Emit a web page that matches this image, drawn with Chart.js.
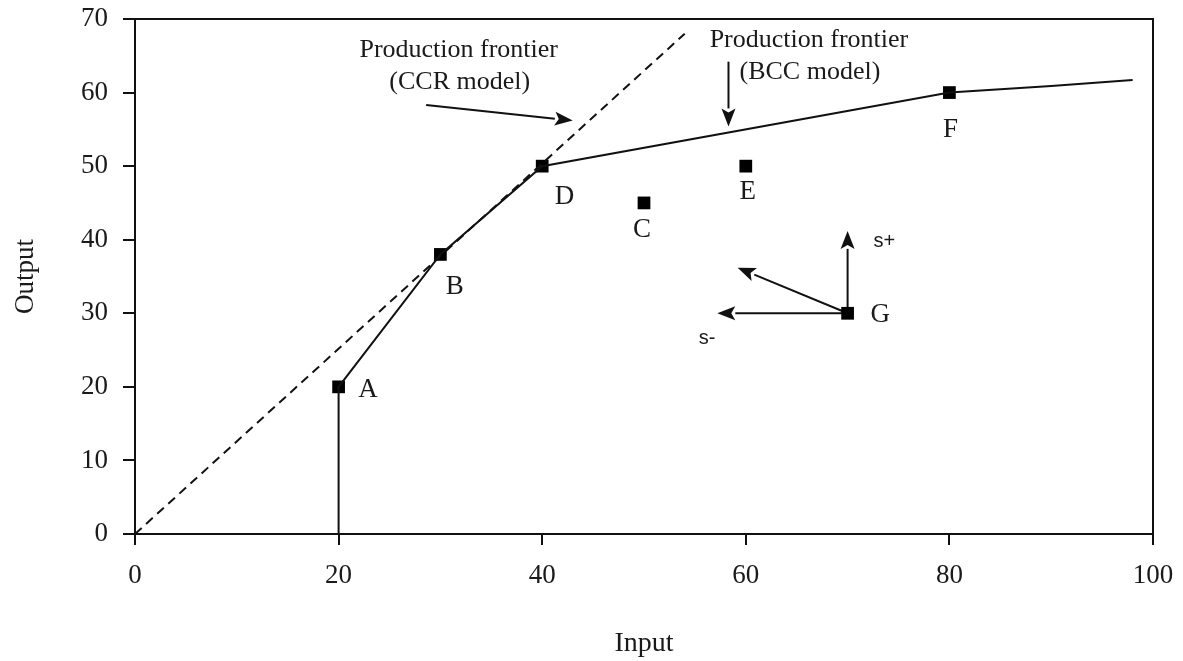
<!DOCTYPE html>
<html>
<head>
<meta charset="utf-8">
<title>Production frontier</title>
<script src="https://cdn.jsdelivr.net/npm/chart.js@4.4.1/dist/chart.umd.min.js"></script>
<style>
  html, body { margin: 0; padding: 0; background: #fff; }
  #wrap { width: 1183px; height: 661px; }
</style>
</head>
<body>
<div id="wrap"><canvas id="chart"></canvas></div>
<script>
// decision making units
const dmuNames = ['A', 'B', 'C', 'D', 'E', 'F', 'G'];
const dmuInput = [20, 30, 50, 40, 60, 80, 70];
const dmuOutput = [20, 38, 45, 50, 50, 60, 30];

// BCC frontier (variable returns), starts with the vertical segment at A
const bccInput = [20, 20, 30, 40, 80, 90, 98];
const bccOutput = [0, 20, 38, 50, 60, 60.9, 61.7];

// CCR frontier (constant returns), ray from origin
const ccrInput = [0, 54];
const ccrOutput = [0, 68];

const xTicks = [0, 20, 40, 60, 80, 100];
const yTicks = [0, 10, 20, 30, 40, 50, 60, 70];

const serif = "'Liberation Serif', 'Times New Roman', serif";
const ink = '#111';

// arrows, in data units: [fromX, fromY, toX, toY]
const arrows = [
  [28.6, 58.3, 43.0, 56.2],
  [58.3, 64.2, 58.3, 55.4],
  [70, 30, 70, 41.2],
  [70, 30, 57.2, 30],
  [70, 30, 59.2, 36.2]
];

// notes anchored in data units
const notes = [
  { text: 'Production frontier', x: 31.8, y: 65.8, size: 26 },
  { text: '(CCR model)', x: 31.9, y: 61.4, size: 26 },
  { text: 'Production frontier', x: 66.2, y: 67.1, size: 26 },
  { text: '(BCC model)', x: 66.3, y: 62.8, size: 26 },
  { text: 'A', x: 22.9, y: 19.6, size: 27 },
  { text: 'B', x: 31.4, y: 33.6, size: 27 },
  { text: 'D', x: 42.2, y: 45.8, size: 27 },
  { text: 'C', x: 49.8, y: 41.3, size: 27 },
  { text: 'E', x: 60.2, y: 46.5, size: 27 },
  { text: 'F', x: 80.1, y: 54.9, size: 27 },
  { text: 'G', x: 73.2, y: 29.8, size: 27 },
  { text: 's+', x: 73.6, y: 39.8, size: 20, sans: true },
  { text: 's-', x: 56.2, y: 26.6, size: 20, sans: true }
];

function drawArrow(ctx, x1, y1, x2, y2) {
  const ang = Math.atan2(y2 - y1, x2 - x1);
  const head = 18, half = 7;
  const bx = x2 - head * Math.cos(ang), by = y2 - head * Math.sin(ang);
  ctx.beginPath();
  ctx.moveTo(x1, y1);
  ctx.lineTo(bx, by);
  ctx.stroke();
  ctx.beginPath();
  ctx.moveTo(x2, y2);
  ctx.lineTo(bx + half * Math.sin(ang), by - half * Math.cos(ang));
  ctx.lineTo(bx + 4 * Math.cos(ang), by + 4 * Math.sin(ang));
  ctx.lineTo(bx - half * Math.sin(ang), by + half * Math.cos(ang));
  ctx.closePath();
  ctx.fill();
}

const decorations = {
  id: 'decorations',
  beforeDatasetsDraw(chart) {
    const { ctx, scales: { x, y } } = chart;
    ctx.save();
    ctx.strokeStyle = ink;
    ctx.fillStyle = ink;
    ctx.lineWidth = 2;
    arrows.forEach(a => {
      drawArrow(ctx, x.getPixelForValue(a[0]), y.getPixelForValue(a[1]),
                x.getPixelForValue(a[2]), y.getPixelForValue(a[3]));
    });
    ctx.restore();
  },
  afterDatasetsDraw(chart) {
    const { ctx, chartArea: area, scales: { x, y } } = chart;
    ctx.save();
    // closed box around the plot
    ctx.strokeStyle = ink;
    ctx.lineWidth = 2;
    ctx.strokeRect(area.left, area.top, area.right - area.left, area.bottom - area.top);

    ctx.fillStyle = '#1a1a1a';
    ctx.textAlign = 'center';
    ctx.textBaseline = 'middle';
    notes.forEach(n => {
      ctx.font = n.size + 'px ' + (n.sans ? "'Liberation Sans', Arial, sans-serif" : serif);
      ctx.fillText(n.text, x.getPixelForValue(n.x), y.getPixelForValue(n.y));
    });
    ctx.restore();
  }
};

new Chart(document.getElementById('chart'), {
  type: 'scatter',
  data: {
    datasets: [
      {
        label: 'CCR frontier',
        data: ccrInput.map((v, i) => ({ x: v, y: ccrOutput[i] })),
        showLine: true,
        borderColor: ink,
        borderWidth: 2,
        borderDash: [9, 6],
        pointRadius: 0
      },
      {
        label: 'BCC frontier',
        data: bccInput.map((v, i) => ({ x: v, y: bccOutput[i] })),
        showLine: true,
        borderColor: ink,
        borderWidth: 2,
        pointRadius: 0
      },
      {
        label: 'DMU',
        data: dmuInput.map((v, i) => ({ x: v, y: dmuOutput[i], name: dmuNames[i] })),
        pointStyle: 'rect',
        pointRadius: 9,
        backgroundColor: '#000',
        borderColor: '#000',
        borderWidth: 0
      }
    ]
  },
  options: {
    responsive: true,
    maintainAspectRatio: false,
    animation: false,
    layout: { padding: { top: 19, right: 30, left: 0, bottom: 0 } },
    plugins: {
      legend: { display: false },
      tooltip: { enabled: false }
    },
    scales: {
      x: {
        type: 'linear',
        min: 0,
        max: 100,
        afterBuildTicks: s => { s.ticks = xTicks.map(v => ({ value: v })); },
        afterFit: s => {
          s.height = 127;
          s.paddingLeft = 0;
          s.paddingRight = 0;
        },
        grid: { drawOnChartArea: false, color: ink, lineWidth: 2, tickLength: 11 },
        border: { display: true, color: ink, width: 2 },
        ticks: { color: '#1a1a1a', font: { family: serif, size: 27 }, padding: 15, maxRotation: 0 },
        title: {
          display: true,
          text: 'Input',
          color: '#1a1a1a',
          font: { family: serif, size: 28 },
          padding: { top: 0, bottom: 1 }
        }
      },
      y: {
        type: 'linear',
        min: 0,
        max: 70,
        afterBuildTicks: s => { s.ticks = yTicks.map(v => ({ value: v })); },
        afterFit: s => {
          s.width = 135;
          s.paddingTop = 0;
          s.paddingBottom = 0;
        },
        grid: { drawOnChartArea: false, color: ink, lineWidth: 2, tickLength: 12 },
        border: { display: true, color: ink, width: 2 },
        ticks: { color: '#1a1a1a', font: { family: serif, size: 27 }, padding: 15 },
        title: {
          display: true,
          text: 'Output',
          color: '#1a1a1a',
          font: { family: serif, size: 27 },
          padding: { top: 10, bottom: 0 }
        }
      }
    }
  },
  plugins: [decorations]
});
</script>
</body>
</html>
